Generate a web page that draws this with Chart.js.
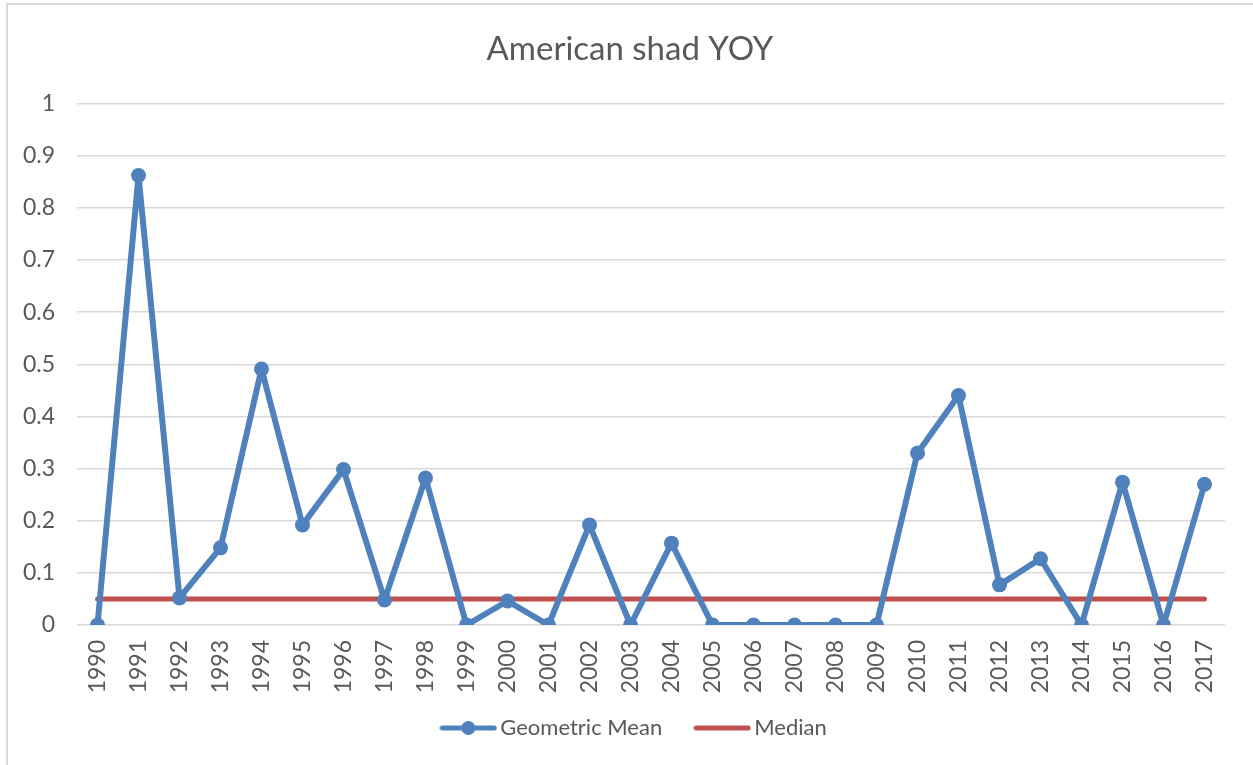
<!DOCTYPE html>
<html lang="en">
<head>
  <meta charset="UTF-8">
  <title>American shad YOY</title>
  <script src="https://cdn.jsdelivr.net/npm/chart.js"></script>
  <style>
    html, body {
      margin: 0;
      padding: 0;
      background: #fff;
      overflow: hidden;
    }
    #frame {
      position: absolute;
      left: 6px;
      top: 3px;
      width: 1247px;
      height: 762px;
      border-left: 2px solid #d9d9d9;
      border-top: 2px solid #d9d9d9;
      box-sizing: border-box;
    }
    #wrap {
      position: absolute;
      left: 0;
      top: 0;
      width: 1253px;
      height: 765px;
    }
  </style>
</head>
<body>
  <div id="frame"></div>
  <div id="wrap"><canvas id="shadChart"></canvas></div>

  <script>
    const years = ['1990', '1991', '1992', '1993', '1994', '1995', '1996', '1997', '1998', '1999',
                   '2000', '2001', '2002', '2003', '2004', '2005', '2006', '2007', '2008', '2009',
                   '2010', '2011', '2012', '2013', '2014', '2015', '2016', '2017'];
    const geometricMean = [0, 0.862, 0.052, 0.148, 0.491, 0.192, 0.298, 0.048, 0.282, 0,
                           0.046, 0, 0.192, 0, 0.157, 0, 0, 0, 0, 0,
                           0.33, 0.44, 0.077, 0.127, 0, 0.274, 0, 0.27];
    const medianValue = 0.05;
    const median = years.map(() => medianValue);

    const blue = '#4f81bd';
    const red = '#c0504d';
    const grey = '#595959';
    const font = 'Lato, "Open Sans", sans-serif';

    // small legend swatches: line with a marker, plain line
    function swatch(color, marker) {
      const c = document.createElement('canvas');
      c.width = 58;
      c.height = 18;
      const g = c.getContext('2d');
      g.strokeStyle = color;
      g.lineWidth = 5;
      g.lineCap = 'round';
      g.beginPath();
      g.moveTo(3, 9);
      g.lineTo(55, 9);
      g.stroke();
      if (marker) {
        g.fillStyle = color;
        g.beginPath();
        g.arc(29, 9, 7, 0, Math.PI * 2);
        g.fill();
      }
      return c;
    }

    // title and legend sit a little right of centre; the wide legend
    // padding also adds empty space on top, so lift the legend a bit
    const nudgeBlocks = {
      id: 'nudgeBlocks',
      afterLayout(chart) {
        const t = chart.titleBlock;
        t.left += 14;
        t.right += 14;
        const l = chart.legend;
        l.left += 21;
        l.right += 21;
        l.top -= 15;
        l.bottom -= 15;
      }
    };

    const ctx = document.getElementById('shadChart').getContext('2d');
    new Chart(ctx, {
      type: 'line',
      data: {
        labels: years,
        datasets: [{
          label: 'Geometric Mean',
          data: geometricMean,
          borderColor: blue,
          backgroundColor: blue,
          borderWidth: 6,
          borderJoinStyle: 'round',
          pointRadius: 7.5,
          pointHoverRadius: 7.5,
          pointBorderWidth: 0,
          pointStyle: 'circle',
          tension: 0,
          legendSwatch: swatch(blue, true)
        }, {
          label: 'Median',
          data: median,
          borderColor: red,
          backgroundColor: red,
          borderWidth: 5,
          borderCapStyle: 'round',
          pointRadius: 0,
          tension: 0,
          legendSwatch: swatch(red, false)
        }]
      },
      options: {
        responsive: true,
        maintainAspectRatio: false,
        animation: false,
        layout: {
          padding: { left: 7, right: 28, top: 2, bottom: 1 }
        },
        plugins: {
          title: {
            display: true,
            text: 'American shad YOY',
            color: grey,
            font: { family: font, size: 33, weight: 'normal' },
            padding: { top: 28, bottom: 34 }
          },
          legend: {
            position: 'bottom',
            labels: {
              color: grey,
              font: { family: font, size: 22 },
              usePointStyle: true,
              pointStyleWidth: 42,
              boxHeight: 18,
              padding: 39,
              generateLabels(chart) {
                return chart.data.datasets.map((ds, i) => ({
                  text: ds.label,
                  pointStyle: ds.legendSwatch,
                  fontColor: grey,
                  datasetIndex: i,
                  hidden: false,
                  lineWidth: 0
                }));
              }
            }
          },
          tooltip: { enabled: false }
        },
        scales: {
          x: {
            offset: true,
            afterFit(scale) { scale.height = 68; },
            grid: { display: false, drawTicks: false },
            border: { display: false },
            ticks: {
              color: grey,
              font: { family: font, size: 23 },
              minRotation: 90,
              maxRotation: 90,
              autoSkip: false,
              padding: 15
            }
          },
          y: {
            min: 0,
            max: 1,
            afterFit(scale) { scale.width = 70; },
            grid: { color: '#d9d9d9', lineWidth: 1.5, drawTicks: false },
            border: { display: false },
            ticks: {
              stepSize: 0.1,
              color: grey,
              font: { family: font, size: 23 },
              padding: 22,
              callback: (v) => String(Number(v.toFixed(1)))
            }
          }
        }
      },
      plugins: [nudgeBlocks]
    });
  </script>
</body>
</html>
